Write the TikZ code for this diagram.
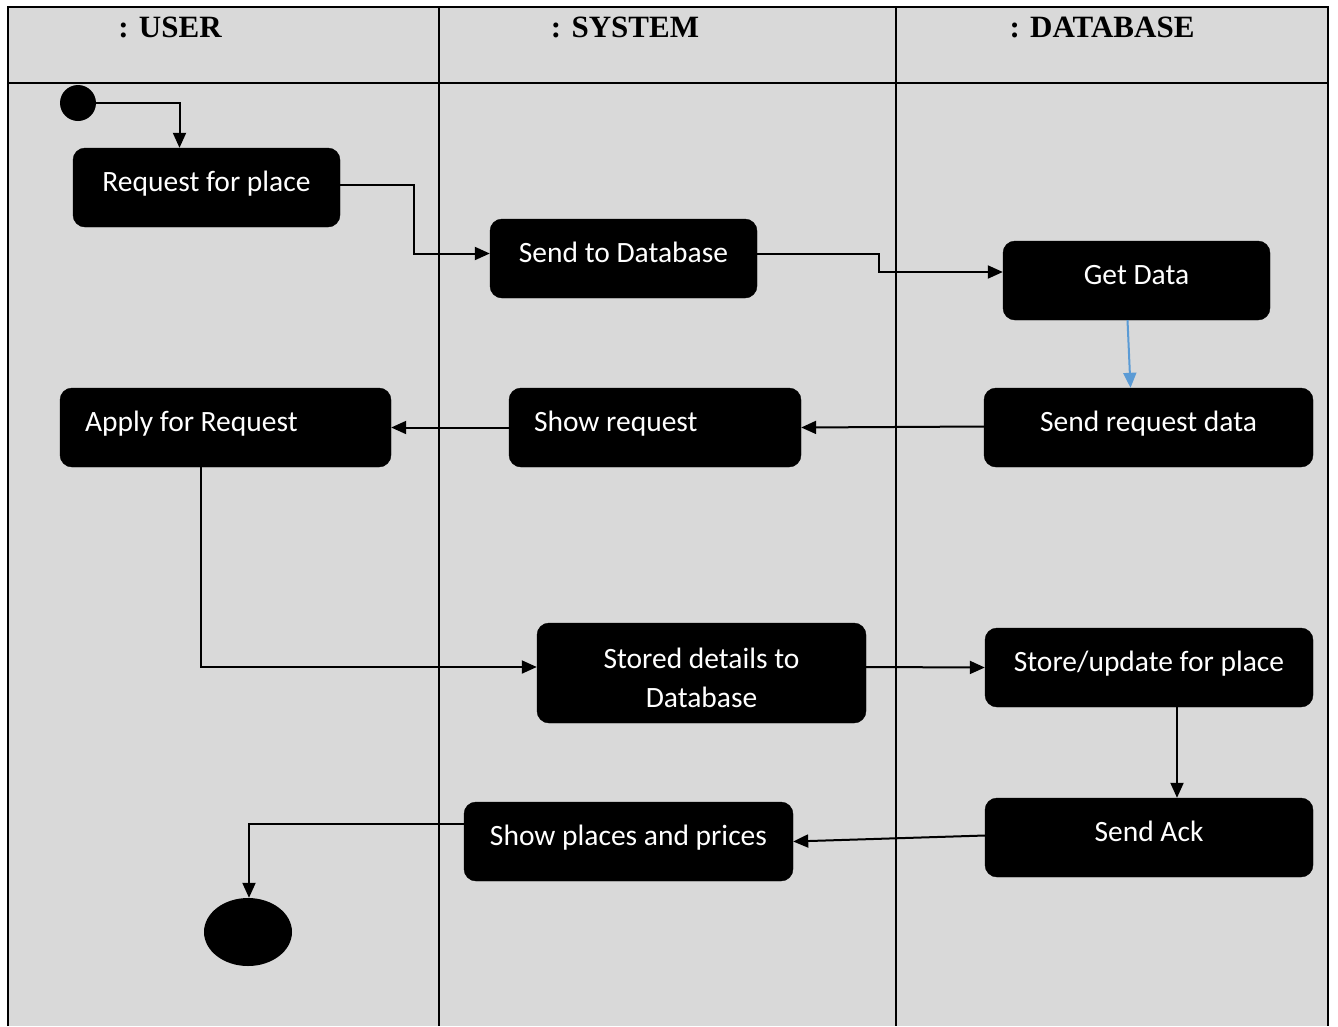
\documentclass[tikz,border=0pt]{standalone}
\usepackage{fontspec}
\usetikzlibrary{arrows.meta,shapes.geometric}
\newfontfamily\boxfont{Carlito}
\newfontfamily\headfont{Liberation Serif}
\definecolor{lanegray}{HTML}{D9D9D9}
\definecolor{flowblue}{HTML}{5B9BD5}
\tikzset{
  basebox/.style={draw=black, fill=black, rounded corners=12pt, text=white,
    font=\boxfont\fontsize{29.5}{39}\selectfont, inner sep=0pt, minimum height=79pt,
    align=center},
  box/.style={basebox, text height=21pt, text depth=13pt},
  conn/.style={line width=2pt, -{Triangle[length=15pt,width=13pt]}},
  head/.style={font=\headfont\bfseries\fontsize{31}{36}\selectfont, inner sep=0pt},
  lane/.style={line width=2pt}
}
\begin{document}
\begin{tikzpicture}[x=1pt,y=-1pt]
\useasboundingbox (0,0) rectangle (1338,1026);
\fill[lanegray] (8,7) rectangle (1328,1026);
\draw[lane] (8,1026) -- (8,7) -- (1328,7) -- (1328,1026);
\draw[lane] (8,83) -- (1328,83);
\draw[lane] (439,7) -- (439,1026);
\draw[lane] (896,7) -- (896,1026);
\node[head] (huser) at (170,27) {: USER};
\node[head] (hsys) at (625,27) {: SYSTEM};
\node[head] (hdb) at (1102,27) {: DATABASE};

\node[circle, fill=black, minimum size=36pt, inner sep=0pt] (start) at (78,103) {};
\node[ellipse, fill=black, minimum width=88pt, minimum height=68pt, inner sep=0pt] (end) at (248,932) {};

\node[box, minimum width=267pt] (req) at (206.5,187.5) {Request for place};
\node[box, minimum width=267pt] (send) at (623.5,258.5) {Send to Database};
\node[box, minimum width=267pt] (get) at (1136.5,280.5) {Get Data};
\node[box, minimum width=329pt] (sreq) at (1148.5,427.5) {Send request data};
\node[box, minimum width=292pt] (showreq) at (655,427.5) {\makebox[242pt][l]{Show request}};
\node[box, minimum width=331pt] (apply) at (225.5,427.5) {\makebox[281pt][l]{Apply for Request}};
\node[basebox, minimum width=329pt, minimum height=100pt] (stored) at (701.5,673) {\rule{0pt}{30pt}Stored details to\\Database};
\node[box, minimum width=328pt] (store) at (1149,667.5) {Store/update for place};
\node[box, minimum width=328pt] (sack) at (1149,837.5) {Send Ack};
\node[box, minimum width=329pt] (show) at (628.5,841.5) {Show places and prices};

\draw[conn] (start.east) -| ([xshift=-27pt]req.north);
\draw[conn] ([yshift=3pt]req.east) -- ++(74,0) |- ([yshift=5pt]send.west);
\draw[conn] ([yshift=5pt]send.east) -- ++(122,0) |- ([yshift=8.5pt]get.west);
\draw[conn, draw=flowblue, fill=flowblue] ([xshift=-9pt]get.south) -- ([xshift=-18pt]sreq.north);
\draw[conn] ([yshift=1pt]sreq.west) -- (showreq.east);
\draw[conn] (showreq.west) -- (apply.east);
\draw[conn] ([xshift=-24.5pt]apply.south) |- ([yshift=6pt]stored.west);
\draw[conn] ([yshift=6pt]stored.east) -- (store.west);
\draw[conn] ([xshift=28pt]store.south) -- ([xshift=28pt]sack.north);
\draw[conn] ([yshift=2pt]sack.west) -- (show.east);
\draw[conn] ([yshift=17.5pt]show.west) -| ([xshift=1pt]end.north);
\end{tikzpicture}
\end{document}
